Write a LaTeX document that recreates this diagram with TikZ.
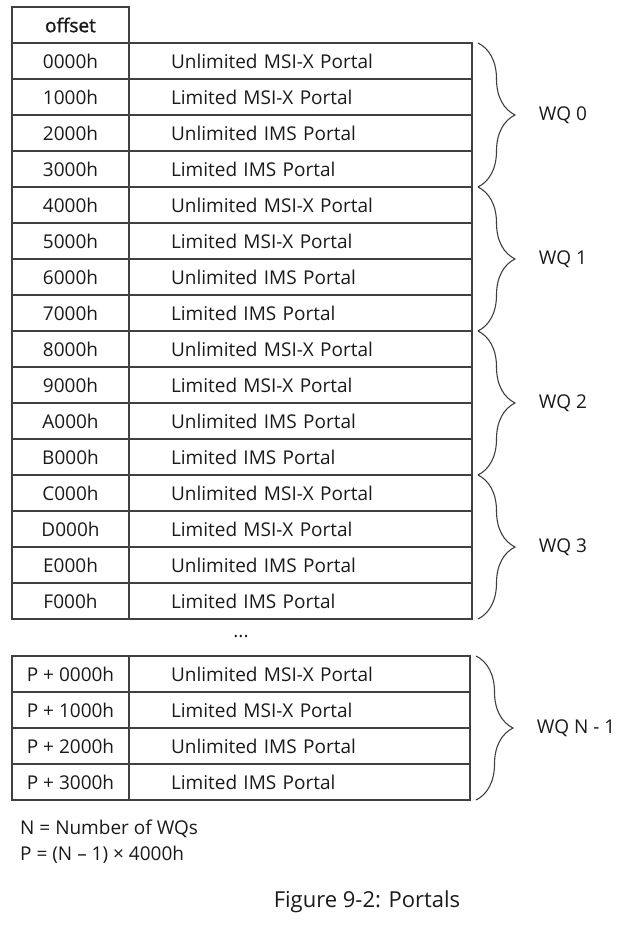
\documentclass[tikz,border=0pt]{standalone}
\usepackage{fontspec}
\setmainfont{Open Sans}
\usetikzlibrary{decorations.pathreplacing}

\definecolor{gridgray}{RGB}{64,64,64}
\definecolor{inkgray}{RGB}{26,26,26}

\newcommand{\portalname}[1]{\ifcase#1 Unlimited MSI-X Portal\or Limited MSI-X Portal\or Unlimited IMS Portal\or Limited IMS Portal\fi}

\begin{document}
\begin{tikzpicture}[x=1pt, y=-1pt,
    cellfont/.style={font=\fontsize{19}{22}\selectfont, text=inkgray},
    offcell/.style={cellfont, draw=gridgray, line width=1.2pt, minimum width=117pt, minimum height=36pt, inner sep=0pt, outer sep=0pt},
    porcell/.style={cellfont, draw=gridgray, line width=1.2pt, minimum height=36pt, text width=259pt, inner xsep=42pt, inner ysep=0pt, outer sep=0pt, align=left},
    wqbrace/.style={decorate, decoration={brace, amplitude=37pt}, draw=gridgray, line width=1.1pt},
    wqlabel/.style={cellfont, anchor=west, xshift=57pt},
    notetext/.style={cellfont, anchor=west, inner sep=0pt}]
    \useasboundingbox (0,0) rectangle (633,933);
    % =========================
    \node[offcell, font=\fontsize{19}{22}\selectfont\addfontfeature{FakeBold=1.5}] (hdr) at (70.5,25) {offset};

    \foreach \h [count=\i from 0] in {0,1,2,3,4,5,6,7,8,9,A,B,C,D,E,F}
        {\pgfmathtruncatemacro{\k}{mod(\i,4)}
        \node[offcell] (off\i) at (70.5,61+36*\i) {\h000h};
        \node[porcell] (por\i) at (300.5,61+36*\i) {\portalname{\k}};}

    \foreach \w in {0,...,3}
        {\pgfmathtruncatemacro{\a}{4*\w}
        \pgfmathtruncatemacro{\b}{4*\w+3}
        \draw[wqbrace] ([xshift=6pt]por\a.north east) -- ([xshift=6pt]por\b.south east) node[wqlabel, midway]{WQ \w};}

    % ===============================
    \node[cellfont] (gap) at (241,637) {...};

    \foreach \j in {0,...,3}
        {\node[offcell] (lastoff\j) at (70.5,674+36*\j) {P + \j000h};
        \node[porcell, text width=257pt] (lastpor\j) at (299.5,674+36*\j) {\portalname{\j}};}
    \draw[wqbrace] ([xshift=6pt]lastpor0.north east) -- ([xshift=6pt]lastpor3.south east) node[wqlabel, midway]{WQ N - 1};

    % ===============================
    \node[notetext] (nnote) at (20,829) {N = Number of WQs};
    \node[notetext] (pnote) at (20,855) {P = (N – 1) × 4000h};
    \node[cellfont, font=\fontsize{22}{26}\selectfont] (caption) at (367,902) {Figure 9-2: Portals};
\end{tikzpicture}
\end{document}
